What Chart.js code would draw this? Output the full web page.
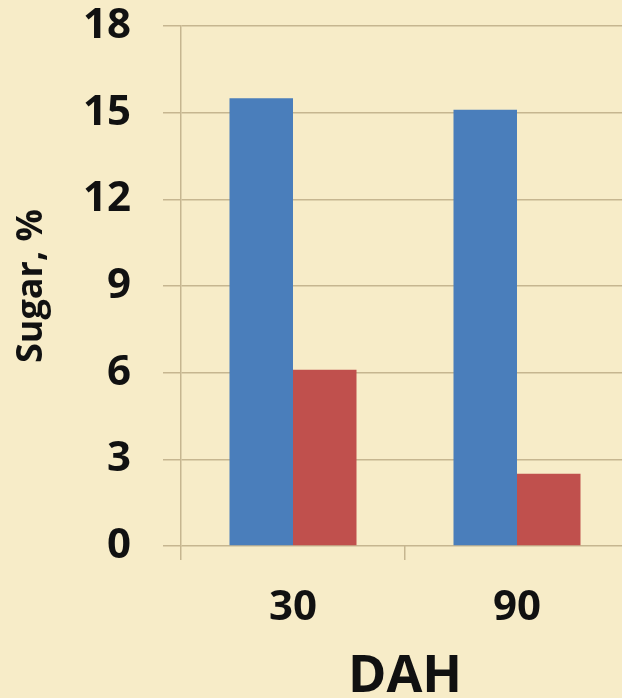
<!DOCTYPE html>
<html>
<head>
<meta charset="utf-8">
<script src="https://cdn.jsdelivr.net/npm/chart.js@4/dist/chart.umd.min.js"></script>
<style>
  html, body { margin: 0; padding: 0; overflow: hidden; background: #f7ecc8; }
  canvas { display: block; }
</style>
</head>
<body>
<canvas id="myChart" width="630" height="698"></canvas>
<script>
// days after harvest and sugar content (%) for the two series
var days = ["30", "90"];
var sugarA = [15.5, 15.1];
var sugarB = [6.1, 2.5];
var yTicks = [0, 3, 6, 9, 12, 15, 18];

var gridColor = "#c6b690";
var tickFont = { family: "'Open Sans'", size: 42, weight: "bold", lineHeight: 1 };

var ctx = document.getElementById('myChart').getContext('2d');
var myChart = new Chart(ctx, {
    type: 'bar',
    data: {
        labels: days,
        datasets: [{
                  data: sugarA,
                  backgroundColor: "#4a7ebb",
                  borderWidth: 0
                }, {
                  data: sugarB,
                  backgroundColor: "#c0504d",
                  borderWidth: 0
                }
              ]
            },
    options: {
        responsive: false,
        devicePixelRatio: 1,
        animation: false,
        layout: { padding: { top: 26, right: 1, left: 0, bottom: 0 } },
        datasets: { bar: { categoryPercentage: 0.567, barPercentage: 1 } },
        plugins: { legend: { display: false }, tooltip: { enabled: false } },
        scales: {
            x: {
                grid: { offset: true, drawOnChartArea: false, tickLength: 14, color: gridColor, lineWidth: 1.5 },
                border: { display: false },
                ticks: { color: "#111", font: tickFont, padding: 27 },
                title: {
                  display: true, text: "DAH", color: "#111",
                  font: { family: "'Open Sans'", size: 52, weight: "bold", lineHeight: 0.8 },
                  padding: { top: 0, bottom: 0 }
                },
                afterFit: function(scale) { scale.height = 152; }
            },
            y: {
                min: 0,
                max: 18,
                afterBuildTicks: function(scale) {
                  scale.ticks = yTicks.map(function(v) { return { value: v }; });
                },
                grid: { tickLength: 18, color: gridColor, lineWidth: 1.5 },
                border: { color: gridColor, width: 1.5 },
                ticks: { color: "#111", font: tickFont, padding: 32 },
                title: {
                  display: true, text: "Sugar, %", color: "#111",
                  font: { family: "'Open Sans'", size: 36, weight: "bold" },
                  padding: { top: 10, bottom: 0 }
                },
                afterFit: function(scale) {
                  scale.width = 181;
                  // label padding would otherwise push the plot top down
                  scale.paddingTop = 0;
                  scale.paddingBottom = 0;
                }
            }
        }
    }
});
</script>
</body>
</html>
